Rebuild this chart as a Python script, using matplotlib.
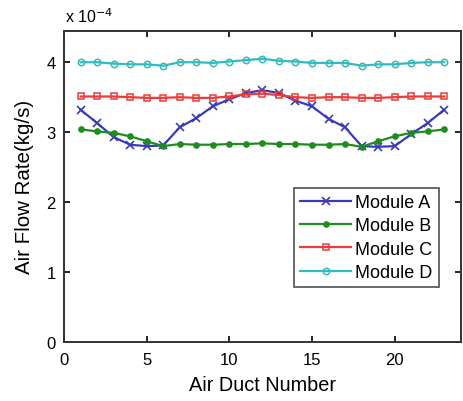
import matplotlib
matplotlib.use('Agg')
import matplotlib.pyplot as plt

plt.rcParams['font.family'] = ['Liberation Sans', 'DejaVu Sans']

ducts = list(range(1, 24))
# air flow rate in units of 1e-4 kg/s
module_a = [3.32, 3.13, 2.93, 2.82, 2.80, 2.81, 3.07, 3.20, 3.37, 3.47, 3.56, 3.60,
            3.56, 3.45, 3.37, 3.19, 3.07, 2.80, 2.79, 2.80, 2.97, 3.13, 3.32]
module_b = [3.04, 3.01, 2.99, 2.94, 2.87, 2.80, 2.83, 2.82, 2.82, 2.83, 2.83, 2.84,
            2.83, 2.83, 2.82, 2.82, 2.83, 2.79, 2.87, 2.94, 2.99, 3.01, 3.04]
module_c = [3.51, 3.51, 3.51, 3.50, 3.49, 3.49, 3.50, 3.49, 3.49, 3.51, 3.54, 3.55,
            3.53, 3.50, 3.49, 3.50, 3.50, 3.49, 3.49, 3.50, 3.51, 3.51, 3.51]
module_d = [4.00, 4.00, 3.98, 3.97, 3.97, 3.95, 4.00, 4.00, 3.99, 4.01, 4.03, 4.05,
            4.02, 4.01, 3.99, 3.99, 3.99, 3.95, 3.97, 3.97, 3.99, 4.00, 4.00]

fig = plt.figure(figsize=(4.64, 4.02), dpi=100)
ax = fig.add_axes([0.138, 0.147, 0.855, 0.774])

ax.plot(ducts, module_a, color='#3a3ab8', marker='x', ms=5.5,
        mew=1.2, lw=1.6, label='Module A')
ax.plot(ducts, module_b, color='#1e8c1e', marker='o', ms=3.8,
        lw=1.6, label='Module B')
ax.plot(ducts, module_c, color='#ee3a3a', marker='s', ms=5,
        mfc='none', mew=1.1, lw=1.6, label='Module C')
ax.plot(ducts, module_d, color='#33bbbb', marker='o', ms=4.6,
        mfc='none', mew=1.1, lw=1.6, label='Module D')

ax.set_xlim(0, 24)
ax.set_ylim(0, 4.45)
ax.set_xticks([0, 5, 10, 15, 20])
ax.set_yticks([0, 1, 2, 3, 4])

ax.tick_params(direction='in', top=True, right=True, labelsize=12, length=4,
               width=1.2)
ax.tick_params(axis='x', pad=7)
ax.tick_params(axis='y', pad=6)
for s in ax.spines.values():
    s.set_linewidth(1.4)
    s.set_color('#333333')

fig.text(65 / 464, 1 - 23 / 402, r'x 10$^{-4}$', fontsize=11.5)

ax.set_xlabel('Air Duct Number', fontsize=14.3, labelpad=6)
ax.set_ylabel('Air Flow Rate(kg/s)', fontsize=14.8, labelpad=9)

leg = ax.legend(loc='lower right', bbox_to_anchor=(0.945, 0.175), fontsize=13,
                frameon=True, fancybox=False, edgecolor='#222222',
                handlelength=2.8, borderpad=0.35, labelspacing=0.35,
                handletextpad=0.25, borderaxespad=0)
leg.get_frame().set_linewidth(1.2)

fig.savefig('out.png', dpi=100)
